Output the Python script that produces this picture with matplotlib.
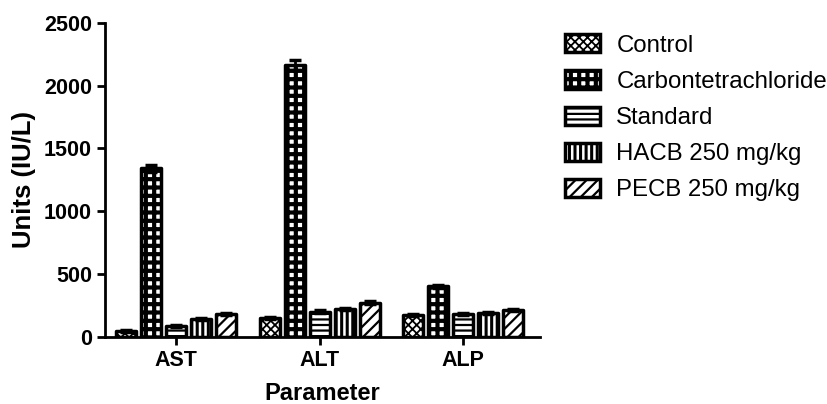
import numpy as np
import matplotlib.pyplot as plt

plt.rcParams['font.family'] = ['Liberation Sans', 'DejaVu Sans']
plt.rcParams['hatch.linewidth'] = 2.2

# data
params = ['AST', 'ALT', 'ALP']
groups = ['Control', 'Carbontetrachloride', 'Standard', 'HACB 250 mg/kg', 'PECB 250 mg/kg']
control = [45, 148, 172]
carbon = [1340, 2160, 400]
standard = [85, 200, 178]
hacb = [140, 220, 188]
pecb = [182, 272, 212]
control_err = [6, 8, 8]
carbon_err = [30, 40, 15]
standard_err = [6, 10, 8]
hacb_err = [6, 8, 8]
pecb_err = [8, 10, 8]

values = [control, carbon, standard, hacb, pecb]
errors = [control_err, carbon_err, standard_err, hacb_err, pecb_err]
hatches = ['xxxx', '++', '---', '|||', '///']
hatch_lw = [1.3, 3.0, 1.6, 2.2, 1.6]

fig = plt.figure(figsize=(8.28, 4.04), dpi=100)
ax = fig.add_axes([0.127, 0.1666, 0.525, 0.7772])

x = np.arange(len(params))
pitch = 0.174
width = 0.139
for i in range(5):
    bars = ax.bar(x + (i - 2) * pitch, values[i], width, yerr=errors[i],
                  color='white', edgecolor='black', linewidth=2.5, hatch=hatches[i],
                  error_kw=dict(ecolor='black', elinewidth=2, capsize=4, capthick=2.5),
                  label=groups[i], joinstyle='round')
    for b in bars:
        if hasattr(b, 'set_hatch_linewidth'):
            b.set_hatch_linewidth(hatch_lw[i])

ax.set_xlim(-0.495, 2.535)
ax.set_ylim(0, 2500)
ax.set_yticks([0, 500, 1000, 1500, 2000, 2500])
ax.set_xticks(x)
ax.set_xticklabels(params)
for sp in ['top', 'right']:
    ax.spines[sp].set_visible(False)
for sp in ['left', 'bottom']:
    ax.spines[sp].set_linewidth(2)
ax.tick_params(axis='both', width=2, length=6, labelsize=15.5)
for lab in ax.get_xticklabels() + ax.get_yticklabels():
    lab.set_fontweight('bold')
ax.set_ylabel('Units (IU/L)', fontsize=18.5, fontweight='bold', labelpad=6)
ax.set_xlabel('Parameter', fontsize=17, fontweight='bold', labelpad=8)

leg = fig.legend(loc='upper left', bbox_to_anchor=(0.682, 0.915), frameon=False,
                 fontsize=17.3, handlelength=1.45, handleheight=0.78,
                 handletextpad=0.7, labelspacing=0.57, borderpad=0, borderaxespad=0)
for h, i in zip(leg.legend_handles, range(5)):
    if hasattr(h, 'set_hatch_linewidth'):
        h.set_hatch_linewidth(hatch_lw[i])

fig.savefig('out.png', dpi=100)
